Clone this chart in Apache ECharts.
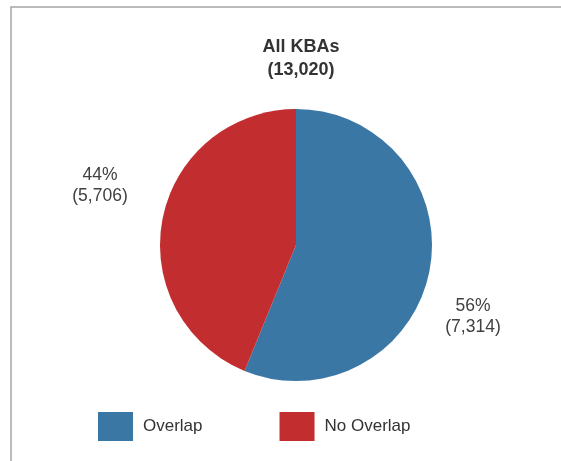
<!DOCTYPE html>
<html>
<head>
<meta charset="utf-8">
<script src="https://cdn.jsdelivr.net/npm/echarts@6/dist/echarts.min.js"></script>
<style>
  html, body { margin: 0; padding: 0; background: #fff; }
  #main { width: 561px; height: 461px; }
</style>
</head>
<body>
<div id="main"></div>
<script>
// chart data
const categories = ['Overlap', 'No Overlap'];
const counts = [7314, 5706];
const colors = ['#3a77a5', '#c22d2f'];
const titleText = 'All KBAs';

const total = counts.reduce((a, b) => a + b, 0);

// label spots for each slice (label boxes only)
const labelSpots = [
    { x: 473, y: 317 },
    { x: 100, y: 186 }
];

var myChart = echarts.init(document.getElementById('main'));

const fmt = n => n.toLocaleString('en-US');

option = {
    animation: false,
    color: colors,
    title: {
        text: titleText + '\n(' + fmt(total) + ')',
        left: 296,
        textAlign: 'center',
        top: 31,
        textStyle: {
            fontFamily: 'Liberation Sans',
            fontSize: 18,
            fontWeight: 'bold',
            color: '#333333',
            lineHeight: 23
        }
    },
    legend: {
        left: 98,
        top: 412,
        padding: 0,
        itemWidth: 35,
        itemHeight: 29,
        itemGap: 77,
        icon: 'rect',
        data: categories,
        textStyle: {
            fontFamily: 'Liberation Sans',
            fontSize: 17,
            color: '#333333',
            padding: [0, 0, 0, 5]
        }
    },
    graphic: [
        {
            type: 'polyline',
            shape: { points: [[11, 461], [11, 7], [561, 7]] },
            style: { stroke: '#a6a6a6', lineWidth: 1.5, fill: null },
            silent: true
        }
    ],
    series: [
        {
            type: 'pie',
            center: [296, 245],
            radius: [0, 136],
            startAngle: 90,
            clockwise: true,
            avoidLabelOverlap: false,
            data: categories.map((c, i) => ({ name: c, value: counts[i] })),
            itemStyle: { borderWidth: 0 },
            emphasis: { disabled: true },
            label: {
                show: true,
                position: 'outside',
                formatter: p => Math.round(p.percent) + '%\n(' + fmt(p.value) + ')',
                fontFamily: 'Liberation Sans',
                fontSize: 17.5,
                lineHeight: 21,
                color: '#404040',
                align: 'center'
            },
            labelLine: { show: false },
            labelLayout: function(params) {
                let s = labelSpots[params.dataIndex];
                return { x: s.x, y: s.y, align: 'center', verticalAlign: 'middle' };
            }
        }
    ]
};

myChart.setOption(option);
</script>
</body>
</html>
